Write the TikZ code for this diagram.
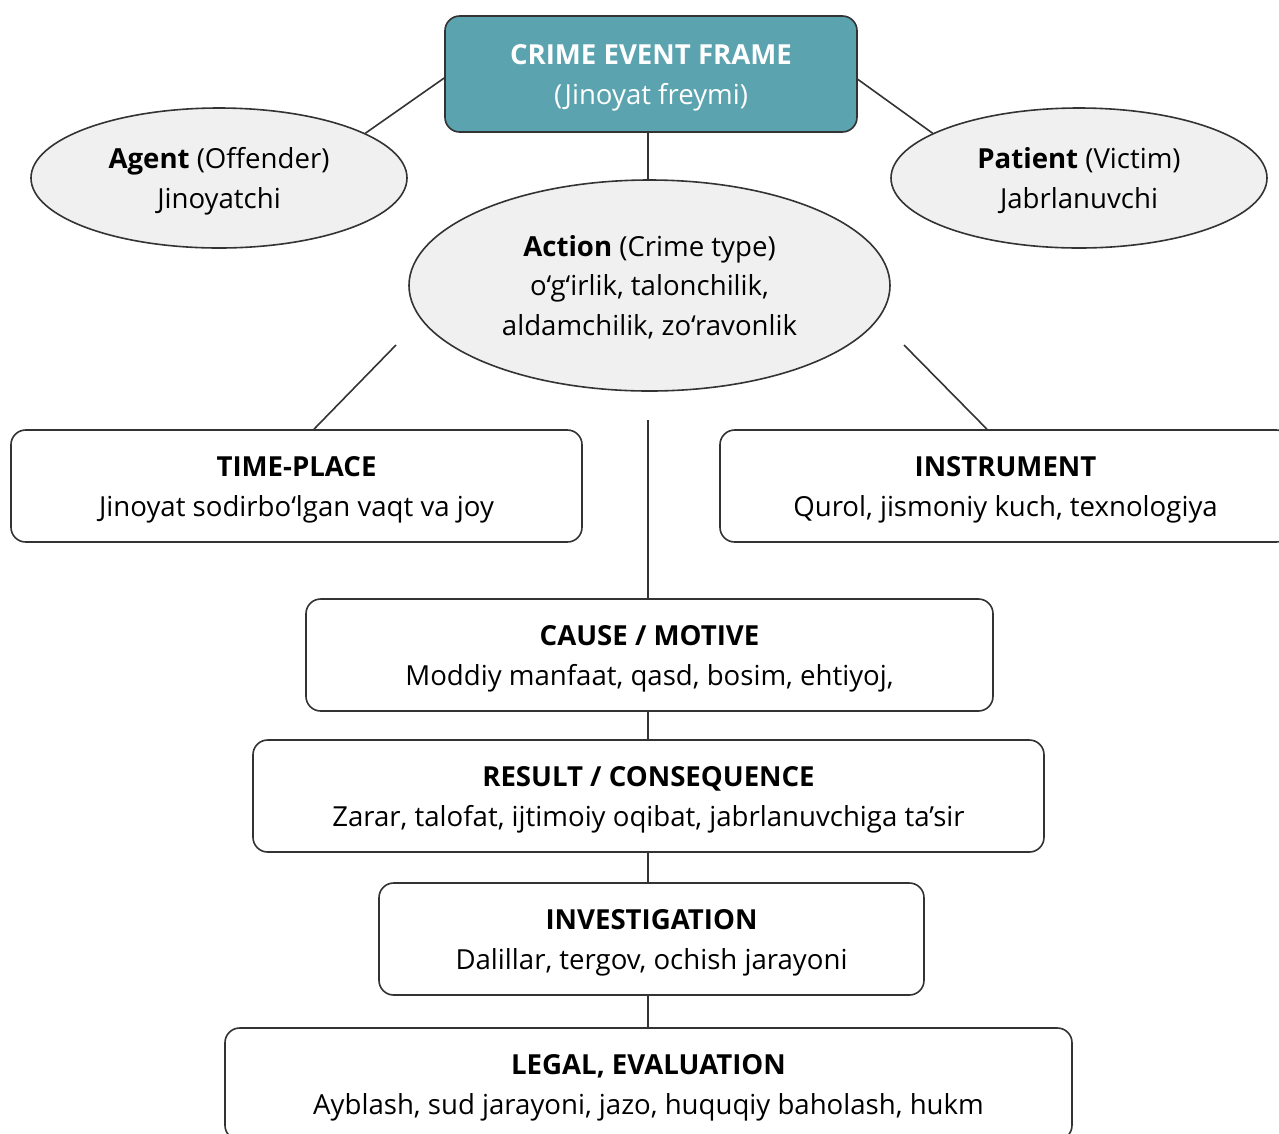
\documentclass[tikz,border=0pt]{standalone}
\usepackage{fontspec}
\setmainfont{Open Sans}
\usetikzlibrary{shapes.geometric}
\definecolor{frameteal}{HTML}{5AA3AF}
\definecolor{ellfill}{HTML}{F0F0F0}
\definecolor{edgecol}{HTML}{333333}
\newcommand\tstr{\rule{0pt}{21.5pt}}
\newcommand\bstr{\rule[-6pt]{0pt}{6pt}}
\begin{document}
\begin{tikzpicture}[x=0.75pt,y=-0.75pt,
  txt/.style={align=center, inner sep=0pt, font=\fontsize{20.7}{29.6}\selectfont},
  box/.style={txt, draw=edgecol, line width=1.2pt, rounded corners=11pt, fill=white, minimum height=84pt},
  ell/.style={txt, ellipse, draw=edgecol, line width=1.2pt, fill=ellfill},
  conn/.style={draw=edgecol, line width=1.2pt}]
\useasboundingbox (0,0) rectangle (1279,1133);

\node[box, fill=frameteal, text=white, minimum width=309pt, minimum height=87pt] (top) at (651,74)
  {\tstr\textbf{CRIME EVENT FRAME}\\(Jinoyat freymi)\bstr};
\node[ell, minimum width=282pt, minimum height=105pt] (agent) at (219,178)
  {\tstr\textbf{Agent} (Offender)\\Jinoyatchi\bstr};
\node[ell, minimum width=282pt, minimum height=105pt] (patient) at (1079,178)
  {\tstr\textbf{Patient} (Victim)\\Jabrlanuvchi\bstr};
\node[ell, minimum width=360.75pt, minimum height=158.25pt] (action) at (649.5,285.5)
  {\tstr\textbf{Action} (Crime type)\\o‘g‘irlik, talonchilik,\\aldamchilik, zo‘ravonlik\bstr};
\node[box, minimum width=428.25pt] (tp) at (296.5,486)
  {\tstr\textbf{TIME-PLACE}\\Jinoyat sodirbo‘lgan vaqt va joy\bstr};
\node[box, minimum width=428.25pt] (instr) at (1005.5,486)
  {\tstr\textbf{INSTRUMENT}\\Qurol, jismoniy kuch, texnologiya\bstr};
\node[box, minimum width=515.25pt] (cause) at (649.5,655)
  {\tstr\textbf{CAUSE / MOTIVE}\\Moddiy manfaat, qasd, bosim, ehtiyoj,\bstr};
\node[box, minimum width=593.25pt] (result) at (648.5,796)
  {\tstr\textbf{RESULT / CONSEQUENCE}\\Zarar, talofat, ijtimoiy oqibat, jabrlanuvchiga ta’sir\bstr};
\node[box, minimum width=408.75pt] (invest) at (651.5,939)
  {\tstr\textbf{INVESTIGATION}\\Dalillar, tergov, ochish jarayoni\bstr};
\node[box, minimum width=635.25pt] (legal) at (648.5,1084)
  {\tstr\textbf{LEGAL, EVALUATION}\\Ayblash, sud jarayoni, jazo, huquqiy baholash, hukm\bstr};

\coordinate (a1) at (396,345);
\coordinate (a2) at (904,345);
\coordinate (v1) at (648,420);

\draw[conn] ([yshift=-3pt]top.west) -- (agent.17);
\draw[conn] ([yshift=-4pt]top.east) -- (patient.163);
\draw[conn] (top.south -| v1) -- (action.north -| v1);
\draw[conn] (a1) -- ([xshift=13.1pt]tp.north);
\draw[conn] (a2) -- ([xshift=-13.9pt]instr.north);
\draw[conn] (v1) -- (cause.north -| v1);
\draw[conn] (cause.south -| v1) -- (result.north -| v1);
\draw[conn] (result.south -| v1) -- (invest.north -| v1);
\draw[conn] (invest.south -| v1) -- (legal.north -| v1);
\end{tikzpicture}
\end{document}
